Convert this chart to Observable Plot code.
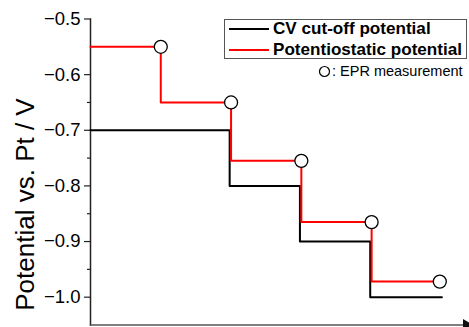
<!DOCTYPE html>
<html>
<head>
<meta charset="utf-8">
<script src="https://cdn.jsdelivr.net/npm/d3@7"></script>
<script src="https://cdn.jsdelivr.net/npm/@observablehq/plot@0.6"></script>
<style>
  html, body { margin: 0; padding: 0; background: #fff; }
  #wrap { position: relative; width: 469px; height: 327px; font-family: "Liberation Sans", Arial, sans-serif; }
  #legend { position: absolute; left: 224px; top: 19px; width: 243px; height: 40px; border: 1px solid #555; box-sizing: border-box; background: #fff; }
  .row { position: absolute; left: 0; height: 20px; display: flex; align-items: center; }
  .row span { font-weight: bold; font-size: 17.1px; color: #000; margin-left: 4px; white-space: nowrap; }
  .swatch { width: 40px; height: 2px; margin-left: 4px; }
  #epr { position: absolute; left: 318px; top: 63px; font-size: 14.5px; display: flex; align-items: center; white-space: nowrap; color:#000; }
</style>
</head>
<body>
<div id="wrap"></div>
<script>
// Series: CV cut-off potential (black step line)
const cvX = [0, 1.98, 2.98, 3.98, 5.0];
const cvY = [-0.7, -0.8, -0.9, -1.0, -1.0];
// Series: Potentiostatic potential (red step line)
const potX = [0, 1, 2, 3, 4, 4.97];
const potY = [-0.55, -0.65, -0.755, -0.865, -0.972, -0.972];
// EPR measurement points
const eprX = [1, 2, 3, 4, 4.97];
const eprY = [-0.55, -0.65, -0.755, -0.865, -0.972];
// Axis ticks
const yTicks = [-1.0, -0.9, -0.8, -0.7, -0.6, -0.5];
const yMinorTicks = [-0.95, -0.85, -0.75, -0.65];
const yLabel = "Potential vs. Pt / V";
const legendLabels = ["CV cut-off potential", "Potentiostatic potential", ": EPR measurement"];

const cv = cvX.map((x, i) => ({x, y: cvY[i]}));
const pot = potX.map((x, i) => ({x, y: potY[i]}));
const epr = eprX.map((x, i) => ({x, y: eprY[i]}));

const chart = Plot.plot({
  width: 469,
  height: 327,
  marginLeft: 90,
  marginRight: 3,
  marginTop: 18.5,
  marginBottom: 2.5,
  style: {fontFamily: "'Liberation Sans', Arial, sans-serif", fontSize: "18px", background: "#fff", color: "#000"},
  x: {domain: [0, 5.35], axis: null},
  y: {domain: [-1.05, -0.5], axis: null},
  marks: [
    Plot.axisY({ticks: yTicks, tickSize: 6, tickPadding: 4, fontSize: 18.5, label: null, tickFormat: d3.format(".1f"), stroke: "#222", strokeWidth: 1.2}),
    Plot.axisY({ticks: yMinorTicks, tickSize: 3, label: null, tickFormat: () => "", stroke: "#222", strokeWidth: 1.2}),
    Plot.frame({anchor: "left", stroke: "#222", strokeWidth: 1.5}),
    Plot.frame({anchor: "bottom", stroke: "#555", strokeWidth: 1.5}),
    Plot.dot([0], {frameAnchor: "bottom-right", symbol: "triangle", rotate: 90, r: 4.5, fill: "#111", stroke: "none", dx: 0}),
    Plot.line(cv, {x: "x", y: "y", curve: "step-after", stroke: "#000", strokeWidth: 2}),
    Plot.line(pot, {x: "x", y: "y", curve: "step-after", stroke: "#ff0000", strokeWidth: 2}),
    Plot.dot(epr, {x: "x", y: "y", r: 6.5, fill: "#fff", stroke: "#000", strokeWidth: 1.3}),
    Plot.text([yLabel], {frameAnchor: "left", rotate: -90, textAnchor: "middle", dx: -65, dy: 32.5, fontSize: 26, fill: "#000"})
  ]
});

const wrap = document.getElementById("wrap");
wrap.appendChild(chart);

const legend = document.createElement("div");
legend.id = "legend";
legend.innerHTML = `
  <div class="row" style="top:-1px"><div class="swatch" style="background:#000"></div><span>${legendLabels[0]}</span></div>
  <div class="row" style="top:20px"><div class="swatch" style="background:#ff0000"></div><span>${legendLabels[1]}</span></div>`;
wrap.appendChild(legend);

const eprLeg = document.createElement("div");
eprLeg.id = "epr";
eprLeg.innerHTML = `<svg width="13" height="13" style="margin-right:1px"><circle cx="6.5" cy="6.5" r="5" fill="#fff" stroke="#000" stroke-width="1.2"/></svg><span>${legendLabels[2]}</span>`;
wrap.appendChild(eprLeg);
</script>
</body>
</html>
